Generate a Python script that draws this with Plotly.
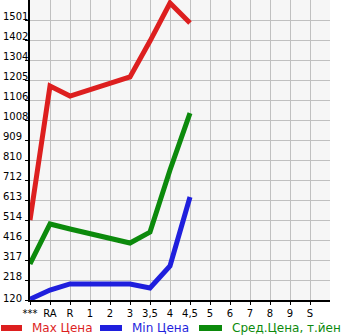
import plotly.graph_objects as go

categories = ["***", "RA", "R", "1", "2", "3", "3,5", "4", "4,5", "5", "6", "7", "8", "9", "S"]
max_price = [514, 1175, 1126, None, None, 1220, 1397, 1585, 1486, None, None, None, None, None, None]
min_price = [124, 169, 199, 199, 199, 199, 179, 288, 628, None, None, None, None, None, None]
avg_price = [298, 495, 470, None, None, 401, 455, 761, 1042, None, None, None, None, None, None]
y_tick_labels = ["120", "218", "317", "416", "514", "613", "712", "810", "909", "1008",
                 "1106", "1205", "1304", "1402", "1501"]
series_names = ["Max Цена", "Min Цена", "Сред.Цена, т.йен"]
series_colors = ["#dd1f1f", "#1f1fdd", "#0c8a0c"]

y_min = 120
y_step = (1501 - 120) / 14
y_tickvals = [y_min + i * y_step for i in range(len(y_tick_labels))]
xs = list(range(len(categories)))

W, H = 345, 335
ML, MR, MT, MB = 30, 15, 0, 35
PW, PH = W - ML - MR, H - MT - MB

fig = go.Figure()
for name, vals, color in zip(series_names, [max_price, min_price, avg_price], series_colors):
    fig.add_trace(go.Scatter(
        x=xs, y=vals, mode="lines", name=name, connectgaps=True,
        line=dict(color=color, width=5), showlegend=False,
    ))


def px_x(p):
    return (p - ML) / PW


def px_y(p):
    return (H - MB - p) / PH


# left-aligned y tick labels sitting just above their tick marks
for i, (v, lab) in enumerate(zip(y_tickvals, y_tick_labels)):
    fig.add_annotation(xref="paper", yref="y", x=px_x(1), y=v,
                       xanchor="left", yanchor="middle", showarrow=False,
                       yshift=2 if i == 0 else 4,
                       text=lab, font=dict(size=10, color="black"))

# custom legend
legend_items = [(1, 22, 30), (100, 122, 130), (199, 222, 230)]
for (x0, x1, tx), name, color in zip(legend_items, series_names, series_colors):
    fig.add_shape(type="line", xref="paper", yref="paper",
                  x0=px_x(x0), x1=px_x(x1), y0=px_y(328), y1=px_y(328),
                  line=dict(color=color, width=6))
    fig.add_annotation(xref="paper", yref="paper", x=px_x(tx), y=px_y(328),
                       xanchor="left", yanchor="middle", showarrow=False,
                       text=name, font=dict(size=12, color=color))

fig.update_layout(
    width=W, height=H,
    margin=dict(l=ML, r=MR, t=MT, b=MB),
    plot_bgcolor="#f6f6f6",
    paper_bgcolor="white",
    font=dict(family="DejaVu Sans", size=10, color="black"),
    showlegend=False,
    xaxis=dict(
        range=[0, 15], tickmode="array", tickvals=xs, ticktext=categories,
        showgrid=True, gridcolor="#c0c0c0", gridwidth=1,
        showline=True, linecolor="black", linewidth=2,
        ticks="outside", ticklen=3, tickcolor="black",
        zeroline=False, fixedrange=True,
    ),
    yaxis=dict(
        range=[y_min, y_min + 15 * y_step + 0.01], tickmode="array",
        tickvals=y_tickvals, ticktext=[""] * len(y_tickvals),
        showgrid=True, gridcolor="#c0c0c0", gridwidth=1,
        showline=True, linecolor="black", linewidth=2,
        ticks="outside", ticklen=3, tickcolor="black",
        zeroline=False, fixedrange=True,
    ),
)

fig.write_html("out.html")
